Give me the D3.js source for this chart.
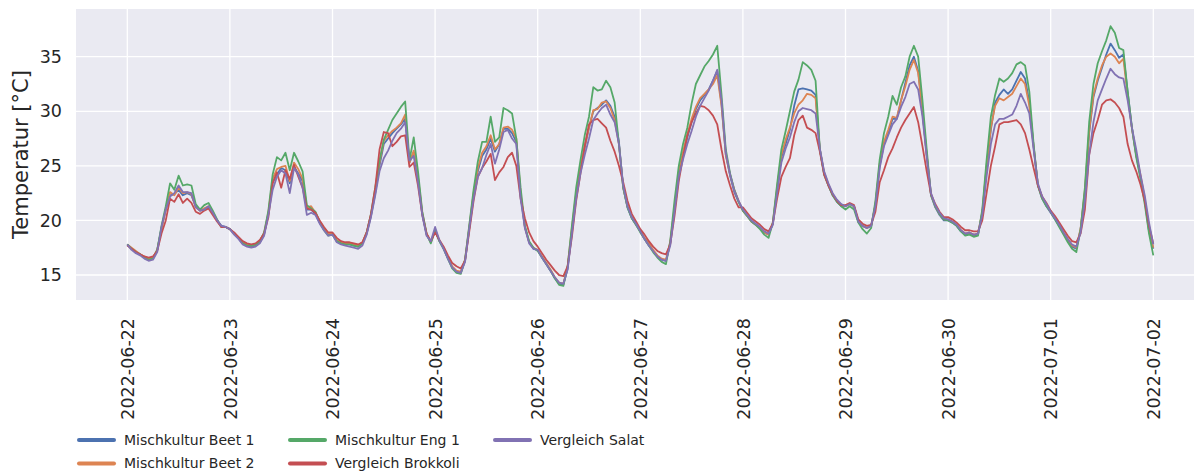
<!DOCTYPE html>
<html>
<head>
<meta charset="utf-8">
<script src="https://cdn.jsdelivr.net/npm/d3@7"></script>
<style>
  body { margin: 0; background: #fff; }
  text { font-family: "DejaVu Sans", sans-serif; fill: #262626; }
</style>
</head>
<body>
<script>
// hourly readings, 2022-06-22 00:00 .. 2022-07-02 00:00 (one line per day)
const startTime = "2022-06-22T00:00:00Z";
const endTime = "2022-07-02T00:00:00Z";

const beet1 = [
  17.8, 17.4, 17.1, 16.9, 16.6, 16.4, 16.5, 17.3, 19.3, 21.0, 22.3, 22.4, 22.8, 22.3, 22.5, 22.3, 21.3, 20.9, 21.0, 21.2, 20.7, 20.0, 19.5, 19.4,
  19.2, 18.8, 18.4, 17.9, 17.7, 17.6, 17.7, 18.0, 18.7, 20.6, 23.5, 24.2, 24.8, 24.6, 23.4, 24.9, 24.3, 23.6, 21.0, 21.0, 20.6, 19.8, 19.2, 18.7,
  18.7, 18.1, 17.9, 17.8, 17.8, 17.7, 17.6, 17.9, 18.8, 20.4, 22.5, 25.0, 27.0, 27.5, 28.0, 28.4, 28.8, 29.3, 25.3, 26.2, 23.8, 20.6, 18.7, 18.0,
  19.1, 18.1, 17.4, 16.5, 15.7, 15.3, 15.2, 16.3, 19.3, 22.3, 24.5, 25.9, 26.5, 27.5, 26.3, 27.0, 28.4, 28.4, 28.0, 27.2, 22.3, 19.4, 18.0, 17.4,
  17.3, 16.6, 16.0, 15.4, 14.7, 14.2, 14.1, 15.6, 19.0, 22.2, 24.6, 26.7, 28.5, 30.0, 30.3, 30.6, 31.0, 30.5, 29.5, 27.2, 23.0, 21.2, 20.2, 19.6,
  19.0, 18.3, 17.7, 17.2, 16.7, 16.4, 16.3, 17.9, 21.0, 24.3, 26.0, 27.6, 29.0, 30.2, 31.0, 31.5, 32.0, 32.8, 33.7, 30.7, 26.0, 24.1, 22.6, 21.7,
  20.9, 20.4, 19.9, 19.6, 19.3, 18.9, 18.7, 19.7, 22.8, 25.8, 27.0, 28.3, 30.5, 32.0, 32.1, 32.0, 31.9, 31.5, 26.5, 24.3, 23.2, 22.3, 21.7, 21.3,
  21.3, 21.5, 21.3, 19.9, 19.5, 19.3, 19.5, 21.4, 25.0, 27.0, 28.0, 29.3, 29.3, 31.0, 32.6, 34.2, 35.0, 33.7, 30.0, 26.0, 22.3, 21.2, 20.5, 20.0,
  20.0, 19.8, 19.5, 19.0, 18.7, 18.8, 18.6, 18.7, 20.7, 24.8, 28.3, 30.8, 31.5, 32.0, 31.6, 32.0, 32.8, 33.6, 33.0, 30.8, 26.8, 23.2, 22.0, 21.3,
  20.7, 20.1, 19.5, 18.8, 18.2, 17.6, 17.4, 19.2, 22.5, 28.0, 31.3, 32.8, 34.0, 35.2, 36.2, 35.6, 34.9, 35.2, 31.8, 28.5, 26.0, 24.0, 21.8, 19.0, 17.4
];

const beet2 = [
  17.8, 17.5, 17.2, 16.9, 16.7, 16.5, 16.6, 17.3, 19.2, 21.0, 22.6, 22.3, 23.0, 22.5, 22.6, 22.4, 21.2, 20.9, 21.1, 21.3, 20.7, 20.0, 19.4, 19.4,
  19.2, 18.8, 18.4, 18.0, 17.8, 17.7, 17.8, 18.1, 18.8, 20.7, 23.8, 24.7, 24.9, 25.0, 23.6, 25.3, 24.7, 23.8, 21.2, 21.3, 20.7, 19.9, 19.3, 18.8,
  18.8, 18.2, 18.0, 17.9, 17.9, 17.8, 17.7, 18.0, 18.9, 20.5, 22.7, 25.3, 27.3, 27.8, 28.2, 28.5, 28.9, 29.7, 25.3, 26.4, 24.0, 20.7, 18.8, 18.0,
  19.1, 18.2, 17.5, 16.6, 15.8, 15.4, 15.3, 16.4, 19.4, 22.5, 24.8, 26.2, 26.8, 27.8, 26.5, 27.0, 28.5, 28.6, 28.3, 27.5, 22.5, 19.4, 18.0, 17.5,
  17.3, 16.7, 16.1, 15.5, 14.8, 14.3, 14.2, 15.8, 19.3, 22.5, 24.8, 26.8, 28.5, 30.1, 30.2, 30.8, 30.9, 30.3, 29.2, 27.0, 23.0, 21.3, 20.3, 19.7,
  19.0, 18.4, 17.9, 17.3, 16.8, 16.5, 16.4, 18.0, 21.2, 24.5, 26.3, 27.9, 29.3, 30.4, 31.2, 31.6, 32.0, 32.5, 33.3, 30.5, 26.0, 24.2, 22.8, 21.8,
  20.9, 20.4, 19.9, 19.6, 19.3, 18.9, 18.7, 19.8, 23.0, 26.0, 27.4, 28.5, 29.8, 30.6, 31.0, 31.6, 31.5, 31.2, 26.5, 24.4, 23.3, 22.4, 21.8, 21.4,
  21.3, 21.5, 21.3, 19.9, 19.5, 19.3, 19.5, 21.5, 25.2, 27.2, 28.3, 29.5, 29.4, 31.0, 32.3, 33.8, 34.7, 33.5, 30.0, 26.0, 22.4, 21.3, 20.6, 20.1,
  20.1, 19.9, 19.6, 19.1, 18.8, 18.9, 18.7, 18.8, 20.8, 25.0, 28.5, 30.5, 31.2, 31.0, 31.3, 31.6, 32.3, 33.0, 32.5, 30.5, 26.8, 23.3, 22.1, 21.4,
  20.8, 20.2, 19.6, 18.9, 18.3, 17.7, 17.5, 19.3, 22.8, 28.2, 31.5, 33.0, 34.2, 35.0, 35.3, 35.0, 34.4, 34.8, 31.5, 28.4, 26.0, 24.2, 22.0, 19.3, 17.5
];

const eng1 = [
  17.8, 17.4, 17.1, 16.9, 16.6, 16.4, 16.5, 17.3, 19.5, 21.3, 23.4, 22.8, 24.1, 23.2, 23.3, 23.2, 21.5, 21.0, 21.4, 21.6, 20.9, 20.1, 19.4, 19.4,
  19.2, 18.8, 18.4, 17.9, 17.7, 17.7, 17.8, 18.1, 18.9, 20.9, 24.2, 25.8, 25.5, 26.2, 24.6, 26.2, 25.4, 24.5, 21.4, 21.1, 20.8, 19.9, 19.1, 18.6,
  18.7, 18.1, 17.9, 17.8, 17.8, 17.7, 17.6, 17.9, 18.9, 20.6, 23.0, 25.5, 27.4, 28.3, 29.2, 29.8, 30.4, 30.9, 25.5, 27.6, 24.5, 20.8, 18.8, 17.9,
  19.1, 18.1, 17.4, 16.5, 15.6, 15.2, 15.1, 16.4, 19.6, 22.8, 25.4, 27.2, 27.2, 29.5, 27.2, 27.6, 30.3, 30.1, 29.8, 27.5, 23.0, 19.5, 18.1, 17.5,
  17.2, 16.6, 16.0, 15.4, 14.7, 14.1, 14.0, 15.8, 19.5, 23.0, 25.5, 27.8, 29.5, 32.2, 31.9, 32.0, 32.8, 32.2, 30.8, 27.0, 23.0, 21.2, 20.2, 19.6,
  18.9, 18.3, 17.7, 17.1, 16.6, 16.2, 16.0, 18.1, 21.8, 25.0, 27.0, 28.5, 30.7, 32.5, 33.3, 34.1, 34.6, 35.2, 36.0, 31.5, 26.5, 24.3, 22.8, 21.7,
  20.9, 20.4, 19.9, 19.6, 19.2, 18.7, 18.4, 19.8, 23.3, 26.5, 28.2, 30.0, 31.8, 32.9, 34.5, 34.2, 33.8, 32.8, 26.5, 24.2, 23.2, 22.3, 21.7, 21.3,
  21.0, 21.3, 21.0, 19.8, 19.2, 18.8, 19.3, 21.8, 25.6, 28.0, 29.5, 31.4, 30.6, 32.2, 33.2, 35.0, 36.0, 35.0, 31.0, 26.5, 22.3, 21.3, 20.6, 20.1,
  20.0, 19.8, 19.5, 19.0, 18.6, 18.7, 18.5, 18.6, 21.0, 25.5, 29.5, 31.5, 33.0, 32.7, 33.0, 33.5, 34.3, 34.5, 34.2, 31.8, 27.0, 23.2, 22.0, 21.3,
  20.8, 20.1, 19.4, 18.7, 18.0, 17.4, 17.1, 19.2, 23.0, 29.0, 32.5, 34.4, 35.5, 36.5, 37.8, 37.2, 35.8, 35.6, 31.8, 28.5, 25.8, 23.8, 21.5, 18.8, 16.8
];

const brokkoli = [
  17.7, 17.4, 17.1, 16.9, 16.7, 16.6, 16.7, 17.2, 18.8, 20.0, 22.0, 21.7, 22.4, 21.6, 22.0, 21.6, 20.8, 20.6, 20.9, 21.1, 20.5, 19.9, 19.4, 19.4,
  19.2, 18.9, 18.5, 18.1, 17.9, 17.8, 17.9, 18.2, 18.8, 20.3, 23.4, 24.4, 23.0, 24.6, 23.8, 25.1, 24.0, 23.0, 21.1, 21.0, 20.7, 20.0, 19.4, 18.9,
  18.9, 18.4, 18.1, 18.0, 18.0, 17.9, 17.8, 18.0, 18.9, 20.6, 23.0, 26.5, 28.1, 28.0, 26.8, 27.2, 27.7, 27.8, 24.9, 25.3, 23.2, 20.5, 18.8, 18.1,
  18.9, 18.2, 17.6, 16.8, 16.1, 15.8, 15.6, 16.3, 19.0, 21.8, 24.0, 24.8, 25.4, 26.1, 23.7, 24.4, 24.9, 25.8, 26.2, 25.0, 22.0, 20.2, 18.9, 18.1,
  17.6, 17.0, 16.4, 15.9, 15.4, 15.0, 14.9, 15.8, 18.5, 21.8, 24.3, 26.8, 28.8, 29.2, 29.3, 28.9, 28.5, 27.3, 26.3, 25.0, 23.5, 21.8, 20.6, 19.9,
  19.2, 18.7, 18.1, 17.6, 17.2, 17.0, 16.9, 17.8, 20.4, 23.6, 25.8, 27.8, 29.0, 29.8, 30.5, 30.4, 30.1, 29.6, 28.8, 26.5, 24.5, 23.2, 22.0, 21.2,
  21.2, 20.7, 20.2, 19.9, 19.6, 19.2, 19.0, 19.7, 22.0, 24.0, 24.9, 25.7, 27.8, 29.2, 29.6, 28.5, 28.3, 28.0, 26.3, 24.2, 23.2, 22.4, 21.8, 21.4,
  21.4, 21.6, 21.4, 20.1, 19.7, 19.5, 19.6, 20.8, 23.5, 24.6, 25.8, 26.6, 27.6, 28.5, 29.2, 29.8, 30.4, 29.0, 26.8, 24.5, 22.4, 21.5, 20.8, 20.3,
  20.3, 20.1, 19.8, 19.4, 19.1, 19.1, 19.0, 19.0, 20.0, 22.5, 25.0, 26.8, 28.8, 29.0, 29.0, 29.1, 29.2, 28.8, 28.0, 26.5, 24.8, 23.2, 22.2, 21.6,
  20.9, 20.4, 19.8, 19.2, 18.6, 18.1, 18.0, 18.8, 21.0, 26.0, 28.0, 29.2, 30.6, 31.0, 31.1, 30.8, 30.3, 29.5, 27.0, 25.5, 24.5, 23.3, 21.8, 19.5, 17.9
];

const salat = [
  17.8, 17.3, 17.0, 16.8, 16.5, 16.3, 16.4, 17.1, 19.4, 21.0, 22.2, 22.5, 23.2, 22.6, 22.6, 22.5, 21.2, 20.9, 21.0, 21.3, 20.7, 20.0, 19.5, 19.4,
  19.2, 18.7, 18.3, 17.8, 17.6, 17.5, 17.6, 17.9, 18.6, 20.5, 22.8, 24.0, 24.6, 24.3, 22.5, 24.8, 24.2, 23.0, 20.5, 20.7, 20.5, 19.7, 19.1, 18.6,
  18.7, 18.0, 17.8, 17.7, 17.6, 17.5, 17.4, 17.7, 18.7, 20.3, 22.3, 24.5, 25.7, 26.4, 27.3, 28.0, 28.4, 29.0, 25.5, 25.9, 23.5, 20.5, 18.6, 18.1,
  19.4, 18.2, 17.4, 16.5, 15.7, 15.3, 15.2, 16.2, 19.3, 22.0, 24.0, 24.8, 26.0, 27.0, 25.2, 26.5, 28.1, 28.3, 27.5, 27.0, 22.0, 19.3, 17.9, 17.4,
  17.3, 16.6, 16.0, 15.4, 14.8, 14.3, 14.2, 15.5, 18.8, 22.0, 24.3, 26.0, 27.5, 29.2, 29.8, 30.3, 30.6, 29.7, 29.0, 27.0, 23.2, 21.3, 20.3, 19.7,
  19.0, 18.3, 17.7, 17.2, 16.7, 16.4, 16.3, 17.7, 20.8, 24.0, 25.6, 27.0, 28.2, 29.5, 30.5, 31.2, 31.9, 32.8, 33.8, 31.0, 26.2, 24.2, 22.7, 21.8,
  21.0, 20.5, 20.0, 19.7, 19.4, 19.0, 18.8, 19.6, 22.5, 25.3, 26.6, 27.6, 29.0, 30.0, 30.3, 30.2, 30.1, 29.8, 26.6, 24.5, 23.4, 22.5, 21.9, 21.5,
  21.3, 21.5, 21.3, 19.9, 19.5, 19.3, 19.5, 21.3, 24.8, 26.8, 27.8, 28.8, 29.3, 30.4, 31.3, 32.5, 32.7, 32.0, 29.5, 25.8, 22.5, 21.4, 20.7, 20.2,
  20.1, 19.9, 19.6, 19.1, 18.8, 18.9, 18.7, 18.8, 20.5, 24.0, 27.0, 28.8, 29.3, 29.3, 29.5, 29.7, 30.5, 31.6, 30.8, 29.8, 26.5, 23.4, 22.2, 21.5,
  20.8, 20.2, 19.6, 18.9, 18.3, 17.8, 17.6, 18.9, 21.8, 26.0, 29.0, 31.0, 32.0, 33.0, 33.9, 33.4, 33.1, 33.0, 31.0, 28.5, 26.5, 24.2, 22.3, 19.8, 17.8
];

const seriesNames = ["Mischkultur Beet 1", "Mischkultur Beet 2", "Mischkultur Eng 1", "Vergleich Brokkoli", "Vergleich Salat"];
const seriesValues = [beet1, beet2, eng1, brokkoli, salat];
const yTicks = [15, 20, 25, 30, 35];
const yLabel = "Temperatur [°C]";

// seaborn "deep"
const colors = ["#4C72B0", "#DD8452", "#55A868", "#C44E52", "#8172B3"];

const width = 1194, height = 472;
const plot = { left: 76, right: 1204.6, top: 9, bottom: 300 };

const svg = d3.select("body").append("svg")
  .attr("width", width)
  .attr("height", height);

const t0 = new Date(startTime), t1 = new Date(endTime);
const pad = (t1 - t0) * 0.05;
const x = d3.scaleUtc()
  .domain([new Date(+t0 - pad), new Date(+t1 + pad)])
  .range([plot.left, plot.right]);
const y = d3.scaleLinear()
  .domain([12.71, 39.37])
  .range([plot.bottom, plot.top]);

const times = beet1.map((_, i) => d3.utcHour.offset(t0, i));
const dayTicks = d3.utcDay.range(t0, d3.utcDay.offset(t1, 1));

// background
svg.append("rect")
  .attr("x", plot.left).attr("y", plot.top)
  .attr("width", plot.right - plot.left).attr("height", plot.bottom - plot.top)
  .attr("fill", "#EAEAF2");

// grid
svg.append("g").selectAll("line").data(dayTicks).join("line")
  .attr("x1", d => x(d)).attr("x2", d => x(d))
  .attr("y1", plot.top).attr("y2", plot.bottom)
  .attr("stroke", "#fff").attr("stroke-width", 1.3);
svg.append("g").selectAll("line").data(yTicks).join("line")
  .attr("x1", plot.left).attr("x2", plot.right)
  .attr("y1", d => y(d)).attr("y2", d => y(d))
  .attr("stroke", "#fff").attr("stroke-width", 1.3);

// axes
const yAxis = svg.append("g")
  .attr("transform", `translate(${plot.left},0)`)
  .call(d3.axisLeft(y).tickValues(yTicks).tickSize(0).tickPadding(14));
yAxis.select(".domain").remove();
yAxis.selectAll("text").style("font-size", "17.5px").attr("fill", "#262626");

const xAxis = svg.append("g")
  .attr("transform", `translate(0,${plot.bottom})`)
  .call(d3.axisBottom(x).tickValues(dayTicks).tickSize(0).tickFormat(d3.utcFormat("%Y-%m-%d")));
xAxis.select(".domain").remove();
xAxis.selectAll("text")
  .style("font-size", "17.5px")
  .attr("fill", "#262626")
  .attr("transform", "rotate(-90)")
  .attr("x", -18).attr("y", 0).attr("dy", "0.35em")
  .style("text-anchor", "end");

svg.append("text")
  .attr("transform", `translate(28,${(plot.top + plot.bottom) / 2}) rotate(-90)`)
  .attr("text-anchor", "middle")
  .style("font-size", "21px")
  .text(yLabel);

// lines
const line = d3.line()
  .x((d, i) => x(times[i]))
  .y(d => y(d));

svg.append("g").selectAll("path").data(seriesValues).join("path")
  .attr("d", line)
  .attr("fill", "none")
  .attr("stroke", (d, i) => colors[i])
  .attr("stroke-width", 1.8)
  .attr("stroke-linejoin", "round");

// legend, 3 columns filled column by column
const legendCols = [79, 290, 495], legendRows = [440, 463.5];
const legend = svg.append("g").selectAll("g").data(seriesNames).join("g")
  .attr("transform", (d, i) => `translate(${legendCols[Math.floor(i / 2)]},${legendRows[i % 2]})`);
legend.append("line")
  .attr("x1", 0).attr("x2", 35)
  .attr("stroke", (d, i) => colors[i])
  .attr("stroke-width", 4)
  .attr("stroke-linecap", "round");
legend.append("text")
  .attr("x", 45).attr("dy", "0.35em")
  .style("font-size", "14px")
  .text(d => d);
</script>
</body>
</html>
